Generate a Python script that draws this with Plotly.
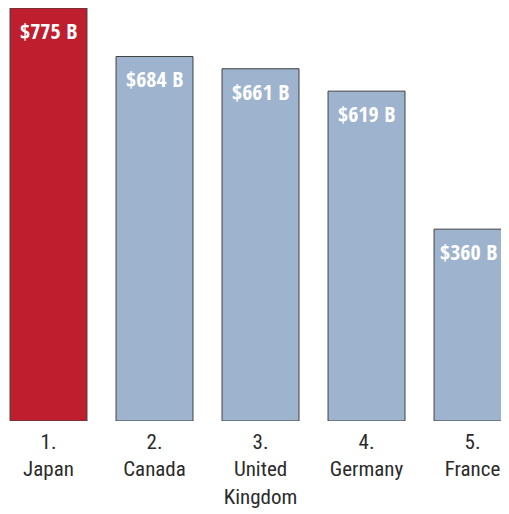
import plotly.graph_objects as go

ranks = ["1.", "2.", "3.", "4.", "5."]
countries = ["Japan", "Canada", "United<br>Kingdom", "Germany", "France"]
values = [775, 684, 661, 619, 360]
labels = ["$775 B", "$684 B", "$661 B", "$619 B", "$360 B"]
colors = ["#BE1E2D", "#9DB3CE", "#9DB3CE", "#9DB3CE", "#9DB3CE"]

tick_font = "Roboto Condensed, Liberation Sans Narrow, sans-serif"
label_font = "Open Sans Condensed, Roboto Condensed, sans-serif"
xs = list(range(len(values)))
ticktext = [f"{r}<br>{c}" for r, c in zip(ranks, countries)]

fig = go.Figure(go.Bar(
    x=xs, y=values, width=0.726,
    marker=dict(color=colors, line=dict(color="#404040", width=1)),
    hoverinfo="skip",
))

for i, (x, v, t) in enumerate(zip(xs, values, labels)):
    fig.add_annotation(x=x, y=v, text=f"<b>{t}</b>", showarrow=False,
                       yanchor="top", yshift=-5,
                       xshift=-4 if i == len(xs) - 1 else 0,
                       font=dict(family=label_font, size=22, color="white"))

fig.update_layout(
    width=501, height=506,
    margin=dict(l=0, r=0, t=0, b=93),
    plot_bgcolor="white", paper_bgcolor="white",
    showlegend=False,
    xaxis=dict(range=[-0.382, 4.344], tickmode="array", tickvals=xs,
               ticktext=ticktext, showgrid=False, zeroline=False,
               showline=False, ticks="", ticklabelstandoff=6,
               tickfont=dict(family=tick_font, size=21, color="#2b2b2b")),
    yaxis=dict(range=[0, 775], visible=False, showgrid=False, zeroline=False),
)

fig.write_html("out.html")
